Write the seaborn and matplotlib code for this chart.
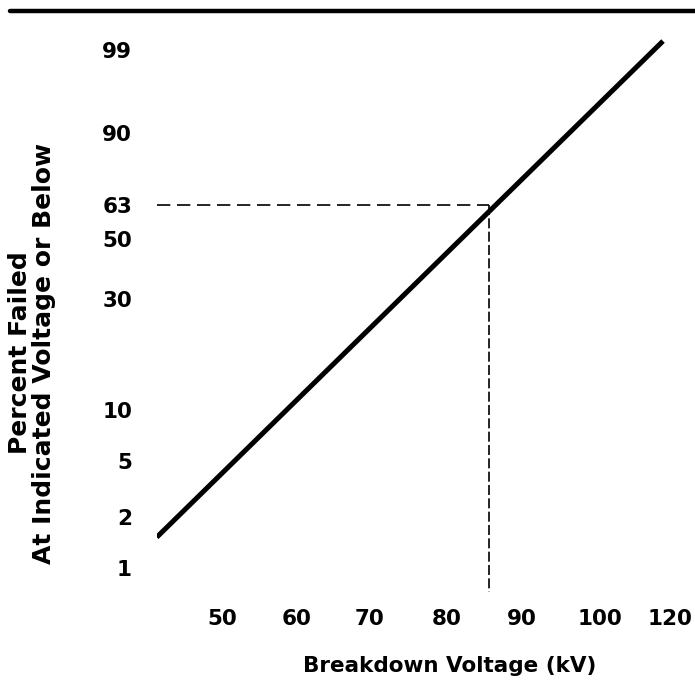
import numpy as np
import pandas as pd
import matplotlib
matplotlib.use("Agg")
import matplotlib.pyplot as plt
from matplotlib.lines import Line2D
import seaborn as sns

# %% values

# printed tick values
volt_ticks = [50, 60, 70, 80, 90, 100, 120]
pct_ticks = [1, 2, 5, 10, 30, 50, 63, 90, 99]

# where the printed scales put those ticks (pixels, from left / from top)
volt_marks = [222, 297, 370, 447, 522, 600, 670]
pct_marks = [568, 517, 461, 410, 299, 239, 205, 133, 50]

# fitted line end points and the 63 % (characteristic) point
line_kv = [41.3, 118.0]
line_pct = [1.52, 99.3]
char_kv = 85.6
char_pct = 63.0

H = 683


# %% scale helpers (piecewise linear, extended at both ends)

def interp_ext(x, xp, fp):
    x = np.asarray(x, dtype=float)
    shape = x.shape
    x = x.ravel()
    y = np.interp(x, xp, fp)
    lo = x < xp[0]
    hi = x > xp[-1]
    y[lo] = fp[0] + (x[lo] - xp[0]) * (fp[1] - fp[0]) / (xp[1] - xp[0])
    y[hi] = fp[-1] + (x[hi] - xp[-1]) * (fp[-1] - fp[-2]) / (xp[-1] - xp[-2])
    return y.reshape(shape)


def weib(p):
    p = np.clip(np.asarray(p, dtype=float), 1e-9, 100 - 1e-9) / 100
    return np.log(-np.log(1 - p))


def weib_inv(w):
    return 100 * (1 - np.exp(-np.exp(np.asarray(w, dtype=float))))


w_ticks = weib(pct_ticks)
y_marks = [H - m for m in pct_marks]


def x_fwd(v):
    return interp_ext(v, volt_ticks, volt_marks)


def x_inv(px):
    return interp_ext(px, volt_marks, volt_ticks)


def y_fwd(p):
    return interp_ext(weib(p), w_ticks, y_marks)


def y_inv(py):
    return weib_inv(interp_ext(py, y_marks, w_ticks))


# %% plot

sns.set_style("white")
plt.rcParams["font.family"] = ["DejaVu Sans"]
plt.rcParams["font.weight"] = "bold"
plt.rcParams["text.color"] = "black"
plt.rcParams["xtick.color"] = "black"
plt.rcParams["ytick.color"] = "black"
plt.rcParams["axes.labelcolor"] = "black"

fig = plt.figure(figsize=(6.95, 6.83), dpi=100)
left, right, top, bottom = 157, 695, 30, 592
ax = fig.add_axes([left / 695, (H - bottom) / H, (right - left) / 695, (bottom - top) / H])

ax.set_xscale("function", functions=(x_fwd, x_inv))
ax.set_yscale("function", functions=(y_fwd, y_inv))
xlo, xhi = float(x_inv(left)), float(x_inv(right))
ylo, yhi = float(y_inv(H - bottom)), float(y_inv(H - top))

line_df = pd.DataFrame({"kV": line_kv, "pct": line_pct})
sns.lineplot(data=line_df, x="kV", y="pct", color="black", linewidth=3.6,
             solid_capstyle="butt", ax=ax)

ax.plot([xlo, char_kv], [char_pct, char_pct], color="black", lw=1.2,
        dashes=(8, 4))
ax.plot([char_kv, char_kv], [char_pct, ylo], color="black", lw=1.2,
        dashes=(6, 2))

ax.set_xlim(xlo, xhi)
ax.set_ylim(ylo, yhi)

ax.set_xticks(volt_ticks)
ax.set_xticklabels([str(v) for v in volt_ticks])
ax.set_yticks(pct_ticks)
ax.set_yticklabels([str(p) for p in pct_ticks])
ax.minorticks_off()
ax.tick_params(axis="both", length=0, labelsize=15.5)
ax.tick_params(axis="y", pad=18)
ax.tick_params(axis="x", pad=12)

ax.set_xlabel("Breakdown Voltage (kV)", fontsize=15.5, fontweight="bold")
ax.xaxis.set_label_coords((450 - left) / (right - left), (bottom - 666) / (bottom - top))
ax.xaxis.label.set_va("center")

ax.set_ylabel("Percent Failed\nAt Indicated Voltage or Below", fontsize=18,
              fontweight="bold", linespacing=0.95)
ax.yaxis.set_label_coords((32 - left) / (right - left), (bottom - 353) / (bottom - top))
ax.yaxis.label.set_va("center")

sns.despine(ax=ax, left=True, bottom=True, top=True, right=True)

# thick rule across the top of the figure
fig.add_artist(Line2D([10 / 695, 1], [1 - 11 / H, 1 - 11 / H], lw=3.2,
                      color="black", transform=fig.transFigure))

fig.savefig("out.png", dpi=100)
